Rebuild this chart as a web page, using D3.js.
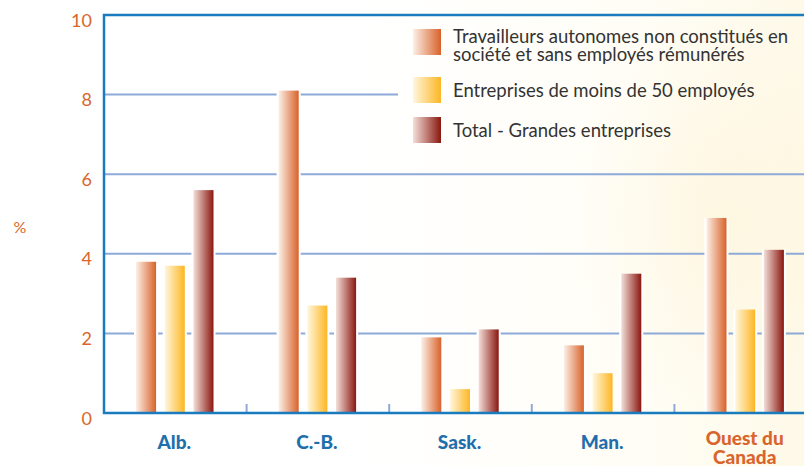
<!DOCTYPE html>
<html>
<head>
<meta charset="utf-8">
<script src="https://cdn.jsdelivr.net/npm/d3@7"></script>
<style>
  body { margin: 0; background: #fff; }
  text { font-family: Lato, "Open Sans", sans-serif; }
</style>
</head>
<body>
<div id="chart"></div>
<script>
// data
const categories = ["Alb.", "C.-B.", "Sask.", "Man.", "Ouest du Canada"];
const seriesNames = [
  "Travailleurs autonomes non constitués en société et sans employés rémunérés",
  "Entreprises de moins de 50 employés",
  "Total - Grandes entreprises"
];
const travailleurs = [3.8, 8.1, 1.9, 1.7, 4.9];
const moins50 = [3.7, 2.7, 0.6, 1.0, 2.6];
const grandes = [5.6, 3.4, 2.1, 3.5, 4.1];
const yTicks = [0, 2, 4, 6, 8, 10];

const W = 804, H = 466;
const plotLeft = 104, plotTop = 15, plotBottom = 413;
const legendLeft = 398, legendBottom = 152;

const svg = d3.select("#chart").append("svg")
  .attr("width", W).attr("height", H);

const defs = svg.append("defs");

// background wash, faint cream towards the right
const bg = defs.append("linearGradient").attr("id", "bg");
bg.append("stop").attr("offset", "0%").attr("stop-color", "#ffffff");
bg.append("stop").attr("offset", "45%").attr("stop-color", "#ffffff");
bg.append("stop").attr("offset", "80%").attr("stop-color", "#fffdf5");
bg.append("stop").attr("offset", "100%").attr("stop-color", "#fef9e8");
const glow = defs.append("radialGradient").attr("id", "glow");
glow.append("stop").attr("offset", "0%").attr("stop-color", "#fdf1d0").attr("stop-opacity", 0.45);
glow.append("stop").attr("offset", "100%").attr("stop-color", "#fdf1d0").attr("stop-opacity", 0);

svg.append("rect").attr("width", W).attr("height", H).attr("fill", "url(#bg)");
svg.append("ellipse").attr("cx", 720).attr("cy", 220).attr("rx", 140).attr("ry", 200)
  .attr("fill", "url(#glow)");

// bar gradients, light on the left, full colour on the right
const colours = [
  ["#fcf0e7", "#d8622a"],
  ["#fff7de", "#fdb623"],
  ["#f3e0d9", "#8a1710"]
];
colours.forEach((c, i) => {
  const g = defs.append("linearGradient").attr("id", "g" + i);
  g.append("stop").attr("offset", "0%").attr("stop-color", c[0]);
  g.append("stop").attr("offset", "100%").attr("stop-color", c[1]);
});

const y = d3.scaleLinear().domain([0, 10]).range([plotBottom, plotTop]);
const x0 = d3.scaleBand().domain(categories).range([plotLeft, plotLeft + 5 * 142.6]);
const x1 = d3.scaleBand().domain(d3.range(3)).range([32, 109.5]).paddingInner(0.3);

const table = categories.map((c, i) => ({
  cat: c,
  vals: [travailleurs[i], moins50[i], grandes[i]]
}));

// grid lines
svg.append("g").selectAll("line")
  .data(yTicks.filter(t => t > 0 && t < 10))
  .join("line")
  .attr("x1", plotLeft)
  .attr("x2", d => y(d) < legendBottom ? legendLeft : W)
  .attr("y1", d => y(d)).attr("y2", d => y(d))
  .attr("stroke", "#8eaad8").attr("stroke-width", 2);

// ticks between groups
svg.append("g").selectAll("line")
  .data(categories.slice(1))
  .join("line")
  .attr("x1", d => x0(d)).attr("x2", d => x0(d))
  .attr("y1", plotBottom).attr("y2", plotBottom - 9)
  .attr("stroke", "#8eaad8").attr("stroke-width", 2);

// bars
const groups = svg.append("g").selectAll("g")
  .data(table)
  .join("g")
  .attr("transform", d => `translate(${x0(d.cat)},0)`);

groups.selectAll("rect.halo")
  .data(d => d.vals)
  .join("rect")
  .attr("class", "halo")
  .attr("x", (d, i) => x1(i) - 2)
  .attr("width", x1.bandwidth() + 4)
  .attr("y", d => y(d))
  .attr("height", d => plotBottom - y(d))
  .attr("fill", "#fff");

groups.selectAll("rect.bar")
  .data(d => d.vals)
  .join("rect")
  .attr("class", "bar")
  .attr("x", (d, i) => x1(i))
  .attr("width", x1.bandwidth())
  .attr("y", d => y(d))
  .attr("height", d => plotBottom - y(d))
  .attr("fill", (d, i) => `url(#g${i})`);

// frame: left, top, bottom
svg.append("path")
  .attr("d", `M${W},${plotTop}H${plotLeft}V${plotBottom}H${W}`)
  .attr("fill", "none").attr("stroke", "#1b7bbf").attr("stroke-width", 2.5);

// y tick labels
svg.append("g").selectAll("text")
  .data(yTicks)
  .join("text")
  .attr("x", 92)
  .attr("y", d => y(d) + 7)
  .attr("text-anchor", "end")
  .attr("dominant-baseline", "middle")
  .attr("font-size", 18)
  .attr("fill", "#d9652c")
  .text(d => d);

svg.append("text")
  .attr("x", 20).attr("y", 229)
  .attr("text-anchor", "middle").attr("dominant-baseline", "middle")
  .attr("font-size", 16).attr("fill", "#d9652c")
  .text("%");

// category labels
svg.append("g").selectAll("text")
  .data(categories)
  .join("text")
  .attr("x", d => x0(d) + x0.bandwidth() / 2 - 1)
  .attr("y", 449)
  .attr("text-anchor", "middle")
  .attr("font-size", 19)
  .attr("font-weight", 900)
  .attr("fill", (d, i) => i === 4 ? "#d9652c" : "#1f6fad")
  .each(function(d, i) {
    const t = d3.select(this);
    if (i === 4) {
      t.attr("y", 445);
      t.append("tspan").attr("x", t.attr("x")).text("Ouest du");
      t.append("tspan").attr("x", t.attr("x")).attr("dy", 19).text("Canada");
    } else {
      t.text(d);
    }
  });

// legend
const legendRows = [
  { lines: ["Travailleurs autonomes non constitués en", "société et sans employés rémunérés"], y: 29 },
  { lines: [seriesNames[1]], y: 77 },
  { lines: [seriesNames[2]], y: 117 }
];
const lg = svg.append("g").selectAll("g")
  .data(legendRows)
  .join("g");
lg.append("rect")
  .attr("x", 413).attr("y", d => d.y)
  .attr("width", 28).attr("height", 26)
  .attr("fill", (d, i) => `url(#g${i})`);
lg.append("text")
  .attr("x", 453)
  .attr("y", d => d.lines.length > 1 ? d.y + 14 : d.y + 20)
  .attr("font-size", 18.5)
  .attr("fill", "#333")
  .selectAll("tspan")
  .data(d => d.lines)
  .join("tspan")
  .attr("x", 453)
  .attr("dy", (d, i) => i === 0 ? 0 : 18)
  .text(d => d);
</script>
</body>
</html>
